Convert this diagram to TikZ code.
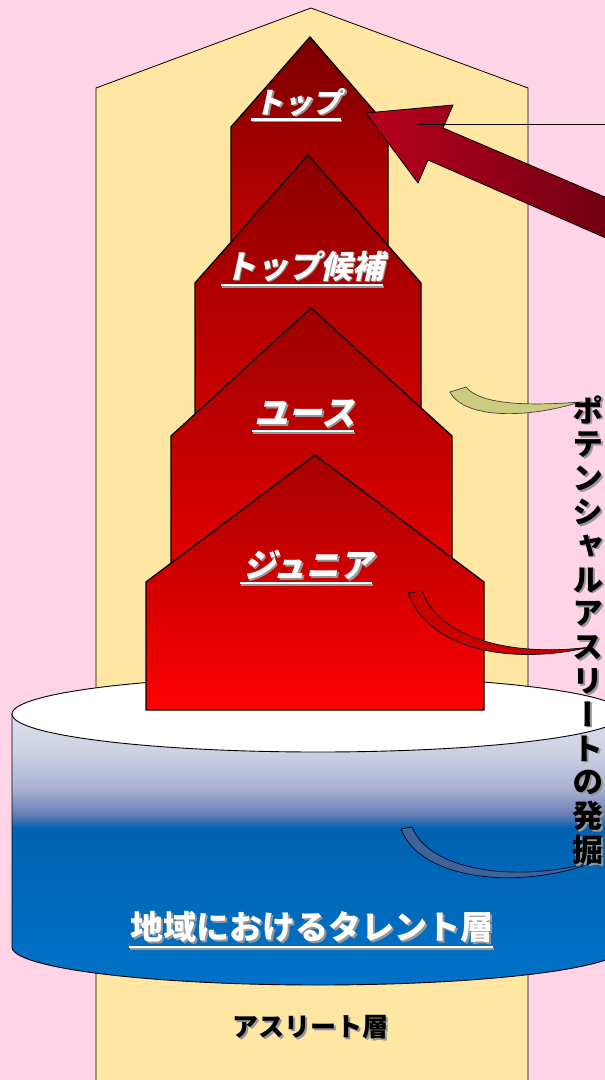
\documentclass[tikz,border=0pt]{standalone}
\usepackage{fontspec}
\newfontfamily\jp{Noto Sans CJK JP}
\newfontfamily\jpsl{Noto Sans CJK JP}[FakeSlant=0.22]
\newfontfamily\jpv{Noto Sans CJK JP}[RawFeature=+vert]
\usetikzlibrary{calc}
\definecolor{pinkbg}{RGB}{255,212,230}
\definecolor{yellowcol}{RGB}{255,230,162}
\definecolor{lblshadow}{RGB}{150,150,150}
\definecolor{cylT0}{HTML}{DCDFEC}
\definecolor{cylT1}{HTML}{CDD1E3}
\definecolor{cylT2}{HTML}{A8B0D2}
\definecolor{cylT3}{HTML}{6A7EB6}
\definecolor{cylM}{HTML}{0062B0}
\definecolor{cylB}{HTML}{0072C8}
\definecolor{arrowlight}{HTML}{B8001E}
\definecolor{arrowdark}{HTML}{680010}
\definecolor{olivec}{RGB}{204,204,128}
\definecolor{redband}{RGB}{200,0,0}
\definecolor{blueband}{HTML}{3E6496}
\definecolor{topA}{HTML}{7C0000}
\definecolor{topB}{HTML}{D00000}
\definecolor{candA}{HTML}{8C0000}
\definecolor{candB}{HTML}{D40000}
\definecolor{youthA}{HTML}{9C0000}
\definecolor{youthB}{HTML}{EA0000}
\definecolor{junA}{HTML}{A40000}
\definecolor{junB}{HTML}{FF0000}
\pgfdeclareverticalshading{cylbody}{100bp}{color(0bp)=(cylB); color(25bp)=(cylB); color(54bp)=(cylM); color(56.5bp)=(cylT3); color(61bp)=(cylT2); color(68bp)=(cylT1); color(75bp)=(cylT0); color(100bp)=(cylT0)}
\newcommand\stagelabel[5]{%
  \node[stagelbl, text=lblshadow, font=\jpsl\bfseries\fontsize{#4}{#4}\selectfont] (#1-s) at ($(#2,#3)+(1.8,1.8)$) {#5};
  \node[stagelbl, text=white, font=\jpsl\bfseries\fontsize{#4}{#4}\selectfont] (#1) at (#2,#3) {#5};
  \draw[lblshadow, line width=2.4] ($(#1.south west)+(-2,5)$) -- ($(#1.south east)+(0,5)$);
  \draw[white, line width=2.4] ($(#1.south west)+(-3,3.2)$) -- ($(#1.south east)+(-1,3.2)$);
}
\begin{document}
\begin{tikzpicture}[x=1pt,y=-1pt,
  stagebox/.style={draw=black, line width=1.3},
  stagelbl/.style={inner sep=0pt, anchor=center},
  band/.style={line width=0.7},
  plainlbl/.style={inner sep=0pt, anchor=center}]
\useasboundingbox (0,0) rectangle (605,1080);
\begin{scope}
\clip (0,0) rectangle (605,1080);
% background
\fill[pinkbg] (0,0) rectangle (605,1080);
% athlete column
\filldraw[fill=yellowcol, draw=black, line width=0.8] (96,1090) -- (96,88) -- (311,8) -- (528,88) -- (528,1090);
% cylinder body
\shade[shading=cylbody] (12,714) -- (12,947) -- plot[domain=180:360, samples=80] ({318+306*cos(\x)},{947-38*sin(\x)}) -- (624,714) -- cycle;
\draw[black, line width=0.9] (12,714) -- (12,947) -- plot[domain=180:360, samples=80] ({318+306*cos(\x)},{947-38*sin(\x)}) -- (624,714);
\filldraw[fill=white, draw=black, line width=0.9] (318,714) ellipse [x radius=306, y radius=38];
% stages
\draw[stagebox, top color=topA, bottom color=topB] (231,290) -- (231,127) -- (310,37) -- (388,127) -- (388,290) -- cycle;
\draw[stagebox, top color=candA, bottom color=candB] (195,440) -- (195,283) -- (308,155) -- (421,283) -- (421,440) -- cycle;
\draw[stagebox, top color=youthA, bottom color=youthB] (171,590) -- (171,436) -- (311,308) -- (452,436) -- (452,590) -- cycle;
\draw[stagebox, top color=junA, bottom color=junB] (146,710) -- (146,582) -- (315,455) -- (484,582) -- (484,710) -- cycle;
% big arrow
\draw[line width=0.8, left color=arrowlight, right color=arrowdark] (366,113) -- (453,105) -- (443,128) -- (640,212) -- (640,253) -- (428,160) -- (418,183) -- cycle;
\coordinate (lineL) at (418,124);
\coordinate (lineR) at (610,124);
\draw[black, line width=1] (lineL) -- (lineR);
% labels
\stagelabel{top}{298}{102}{29}{トップ}
\stagelabel{cand}{304}{266}{32}{トップ候補}
\stagelabel{youth}{305}{414}{34}{ユース}
\stagelabel{junior}{308}{565}{33}{ジュニア}
% talent text
\node[plainlbl, text=lblshadow, font=\jp\bfseries\fontsize{33}{33}\selectfont] (talent-s) at (313.7,929) {地域におけるタレント層};
\node[plainlbl, text=white, font=\jp\bfseries\fontsize{33}{33}\selectfont] (talent) at (311.7,927) {地域におけるタレント層};
\draw[lblshadow, line width=2.4] ($(talent.south west)+(0,6)$) -- ($(talent.south east)+(1,6)$);
\draw[white, line width=2.4] ($(talent.south west)+(-1,4.2)$) -- ($(talent.south east)+(0,4.2)$);
% athlete text
\node[plainlbl, text=lblshadow, font=\jp\bfseries\fontsize{26}{26}\selectfont] (athlete-s) at (312,1029) {アスリート層};
\node[plainlbl, text=black, font=\jp\bfseries\fontsize{26}{26}\selectfont] (athlete) at (310,1027) {アスリート層};
% curved bands
\filldraw[band, fill=olivec, draw=black!75] (450,392) .. controls (465,420) and (530,418) .. (580,402) .. controls (530,406) and (480,405) .. (466,387) -- cycle;
\filldraw[band, fill=redband, draw=black] (408,593) .. controls (430,652) and (515,665) .. (590,647) .. controls (515,657) and (440,640) .. (422,591) -- cycle;
\filldraw[band, fill=blueband, draw=black!80!blue] (401,829) .. controls (420,880) and (520,892) .. (600,860) .. controls (520,884) and (430,872) .. (412,827) -- cycle;
% vertical text
\node[plainlbl, align=center, text=lblshadow, font=\jpv\bfseries\fontsize{31}{33.8}\selectfont] (vt-s) at (589.5,631.5) {ポ\\テ\\ン\\シ\\ャ\\ル\\ア\\ス\\リ\\ー\\ト\\の\\発\\掘};
\node[plainlbl, align=center, text=black, font=\jpv\bfseries\fontsize{31}{33.8}\selectfont] (vt) at (588,630) {ポ\\テ\\ン\\シ\\ャ\\ル\\ア\\ス\\リ\\ー\\ト\\の\\発\\掘};
\end{scope}
\end{tikzpicture}
\end{document}
